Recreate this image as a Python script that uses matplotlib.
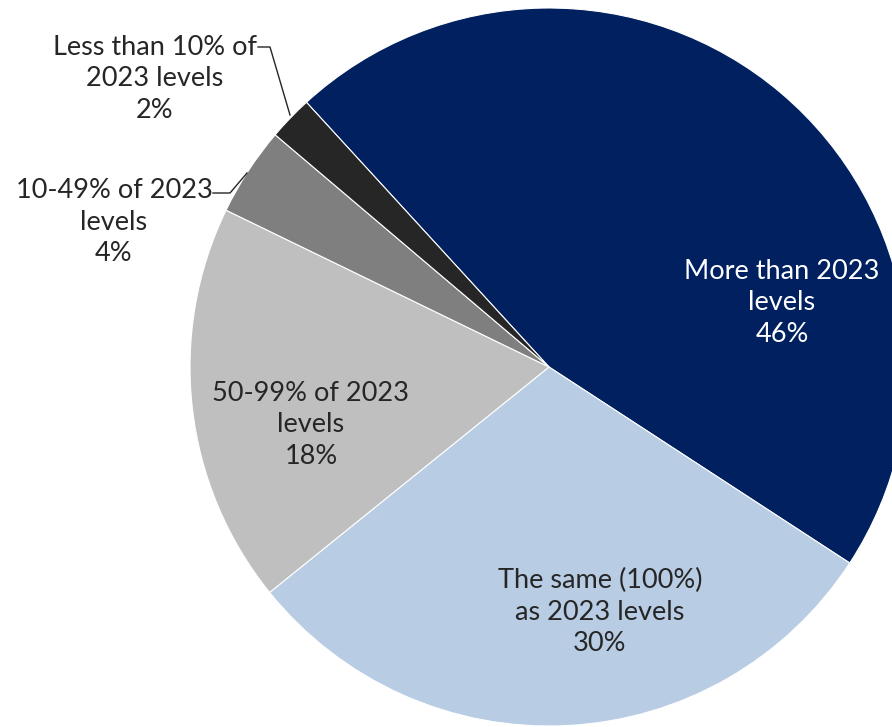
import matplotlib.pyplot as plt

# share of respondents by expected level relative to 2023
categories = ["More than 2023\nlevels", "The same (100%)\nas 2023 levels",
              "50-99% of 2023\nlevels", "10-49% of 2023\nlevels",
              "Less than 10% of\n2023 levels"]
shares = [46, 30, 18, 4, 2]
colors = ["#002060", "#B8CCE4", "#BFBFBF", "#7F7F7F", "#262626"]
text_colors = ["white", "#262626", "#262626", "#262626", "#262626"]

W, H = 892, 727
fig = plt.figure(figsize=(W / 100, H / 100), dpi=100)
ax = fig.add_axes([0, 0, 1, 1])

cx, cy, r = 549, H - 367, 359
wedges, _ = ax.pie(shares, colors=colors, startangle=132.5, counterclock=False,
                   center=(cx, cy), radius=r, frame=True,
                   wedgeprops=dict(edgecolor="white", linewidth=0.8))
ax.set_xlim(0, W)
ax.set_ylim(0, H)
ax.axis("off")

# label anchor points (pixel coords from top-left)
label_pos = [(782, 303), (600, 612), (311, 425), (114, 222), (155, 79)]
for cat, val, (x, y), tc in zip(categories, shares, label_pos, text_colors):
    ax.text(x, H - y, f"{cat}\n{val}%", ha="center", va="center",
            color=tc, fontsize=19.5, family=["Lato", "DejaVu Sans"],
            linespacing=1.33)

# leader lines for the two small slices
leaders = [[(213, 193), (230, 193), (247, 173)],
           [(258, 47), (270, 47), (290, 115)]]
for pts in leaders:
    ax.plot([p[0] for p in pts], [H - p[1] for p in pts],
            color="#262626", linewidth=1)

fig.savefig("out.png", dpi=100)
